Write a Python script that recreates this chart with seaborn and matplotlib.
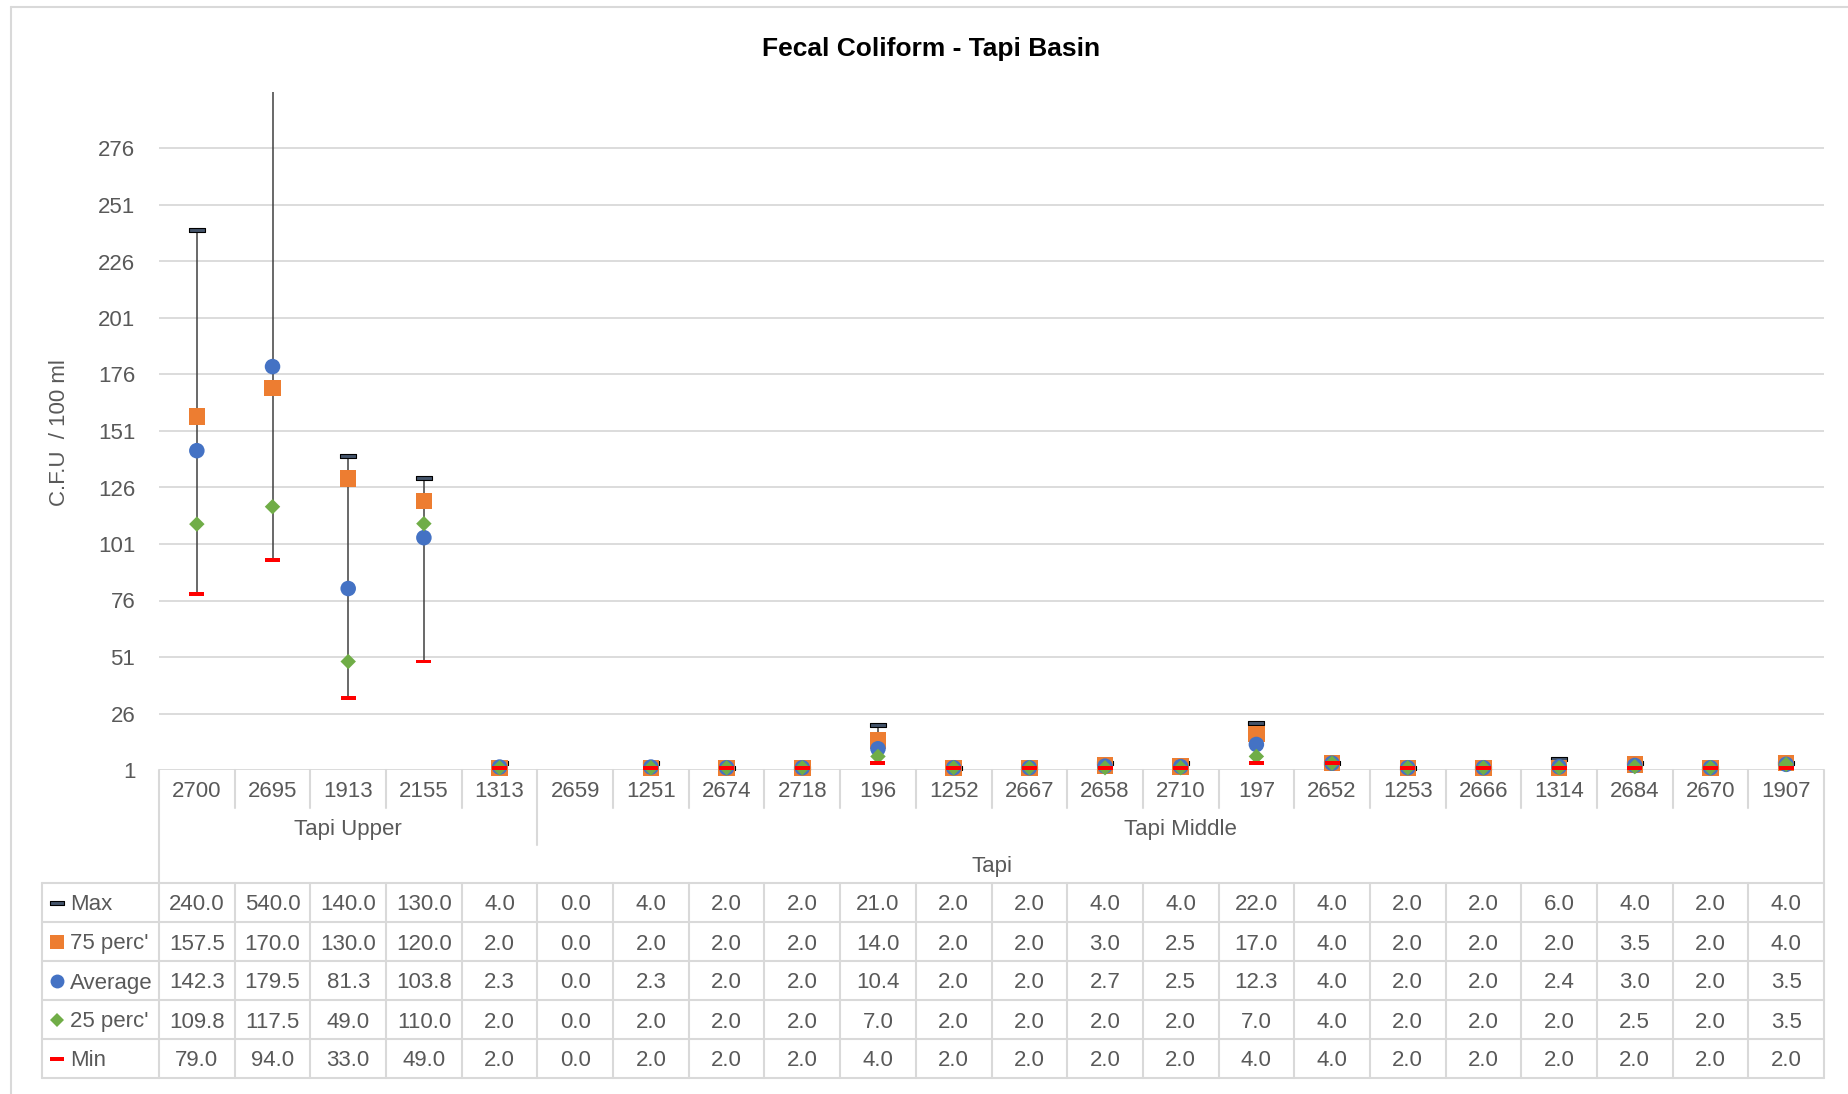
import matplotlib
matplotlib.use("Agg")
import numpy as np
import pandas as pd
import seaborn as sns
import matplotlib.pyplot as plt
from matplotlib import font_manager
from matplotlib.lines import Line2D
from matplotlib.transforms import blended_transform_factory

# stations, grouped by sub-basin
upper_stations = ["2700", "2695", "1913", "2155", "1313"]
middle_stations = ["2659", "1251", "2674", "2718", "196", "1252", "2667", "2658", "2710",
                   "197", "2652", "1253", "2666", "1314", "2684", "2670", "1907"]
basin_name = "Tapi"

max_vals = [240.0, 540.0, 140.0, 130.0, 4.0, 0.0, 4.0, 2.0, 2.0, 21.0, 2.0, 2.0, 4.0, 4.0, 22.0,
            4.0, 2.0, 2.0, 6.0, 4.0, 2.0, 4.0]
p75_vals = [157.5, 170.0, 130.0, 120.0, 2.0, 0.0, 2.0, 2.0, 2.0, 14.0, 2.0, 2.0, 3.0, 2.5, 17.0,
            4.0, 2.0, 2.0, 2.0, 3.5, 2.0, 4.0]
avg_vals = [142.3, 179.5, 81.3, 103.8, 2.3, 0.0, 2.3, 2.0, 2.0, 10.4, 2.0, 2.0, 2.7, 2.5, 12.3,
            4.0, 2.0, 2.0, 2.4, 3.0, 2.0, 3.5]
p25_vals = [109.8, 117.5, 49.0, 110.0, 2.0, 0.0, 2.0, 2.0, 2.0, 7.0, 2.0, 2.0, 2.0, 2.0, 7.0,
            4.0, 2.0, 2.0, 2.0, 2.5, 2.0, 3.5]
min_vals = [79.0, 94.0, 33.0, 49.0, 2.0, 0.0, 2.0, 2.0, 2.0, 4.0, 2.0, 2.0, 2.0, 2.0, 4.0,
            4.0, 2.0, 2.0, 2.0, 2.0, 2.0, 2.0]

series_names = ["Max", "75 perc'", "Average", "25 perc'", "Min"]
y_min, y_max, y_step = 1, 301, 25

W, H = 1848, 1094
text_color = "#595959"
line_grey = "#D9D9D9"

narrow = any(f.name == "Liberation Sans Narrow" for f in font_manager.fontManager.ttflist)
sns.set_style("white")
if narrow:
    plt.rcParams["font.family"] = ["Liberation Sans Narrow", "Liberation Sans", "DejaVu Sans"]
    fs, title_fs = 19, 22
else:
    plt.rcParams["font.family"] = ["Liberation Sans", "DejaVu Sans"]
    fs, title_fs = 16, 19

stations = upper_stations + middle_stations
groups = [("Tapi Upper", len(upper_stations)), ("Tapi Middle", len(middle_stations))]
n = len(stations)
series_vals = [max_vals, p75_vals, avg_vals, p25_vals, min_vals]

rows = []
for name, vals in zip(series_names, series_vals):
    for i, (st, v) in enumerate(zip(stations, vals)):
        rows.append({"pos": i, "station": st, "series": name, "value": v})
df = pd.DataFrame(rows)
# Excel only shows markers that fall inside the value axis range
visible = df[(df["value"] >= y_min) & (df["value"] <= y_max)]


def fy(ypx):
    return 1 - ypx / H


def fx(xpx):
    return xpx / W


dash_thin = [(-1, -0.25), (1, -0.25), (1, 0.25), (-1, 0.25), (-1, -0.25)]
dash_thick = [(-1, -0.27), (1, -0.27), (1, 0.27), (-1, 0.27), (-1, -0.27)]
styles = {
    "Max": dict(marker=dash_thick, s=117, color="#44546A", edgecolor="black", linewidth=0.8),
    "75 perc'": dict(marker="s", s=140, color="#ED7D31", edgecolor="none", linewidth=0),
    "Average": dict(marker="o", s=125, color="#4472C4", edgecolor="none", linewidth=0),
    "25 perc'": dict(marker="D", s=62, color="#70AD47", edgecolor="none", linewidth=0),
    "Min": dict(marker=dash_thin, s=117, color="#FF0000", edgecolor="none", linewidth=0),
}

fig = plt.figure(figsize=(W / 100, H / 100), dpi=100)
ax = fig.add_axes([fx(159), fy(770), fx(1824) - fx(159), fy(92) - fy(770)])
ax.set_xlim(-0.5, n - 0.5)
ax.set_ylim(y_min, y_max)

# min-max lines
ax.vlines(range(n), min_vals, max_vals, color="#404040", linewidth=1.1, zorder=2)

for z, name in enumerate(series_names):
    sub = visible[visible["series"] == name]
    sns.scatterplot(data=sub, x="pos", y="value", ax=ax, legend=False,
                    clip_on=False, zorder=3 + z, **styles[name])

ax.set_yticks(np.arange(y_min, y_max - y_step + 1, y_step))
ax.yaxis.grid(True, color=line_grey, linewidth=1.3)
ax.set_axisbelow(True)
ax.set_xticks([])
ax.set_xlabel("")
ax.set_ylabel("")
for sp in ax.spines.values():
    sp.set_visible(False)
ax.tick_params(axis="y", length=0, pad=17, labelsize=fs, labelcolor=text_color)

fig.text(fx(60), fy(433), "C.F.U  / 100 ml", rotation=90, ha="center", va="center",
         fontsize=fs, color=text_color)
fig.text(fx(931), fy(49), "Fecal Coliform - Tapi Basin", ha="center", va="center",
         fontsize=title_fs, fontweight="bold", color="black")

trans = blended_transform_factory(ax.transData, fig.transFigure)


def vline(x, y0, y1, tr=trans):
    fig.add_artist(Line2D([x, x], [fy(y0), fy(y1)], transform=tr, color=line_grey, linewidth=1.5))


def hline(x0, x1, y):
    fig.add_artist(Line2D([x0, x1], [fy(y), fy(y)], transform=fig.transFigure,
                          color=line_grey, linewidth=1.5))


# category axis: station labels, sub-basin and basin rows
boundaries = np.cumsum([g[1] for g in groups])[:-1]
for i in range(1, n):
    vline(i - 0.5, 770, 845 if i in boundaries else 808)
vline(-0.5, 770, 1078)
vline(n - 0.5, 770, 1078)
for i, st in enumerate(stations):
    fig.text(i, fy(789), st, transform=trans, ha="center", va="center_baseline",
             fontsize=fs, color=text_color)
start = 0
for gname, count in groups:
    fig.text(start + (count - 1) / 2, fy(827), gname, transform=trans, ha="center",
             va="center_baseline", fontsize=fs, color=text_color)
    start += count
fig.text((n - 1) / 2, fy(864), basin_name, transform=trans, ha="center",
         va="center_baseline", fontsize=fs, color=text_color)

# data table
row_top, row_h = 883, 39
table_left = 42
x_right = ax.get_position().x1
for r in range(len(series_names) + 1):
    hline(fx(table_left), x_right, row_top + r * row_h)
vline(fx(table_left), row_top, row_top + 5 * row_h, tr=fig.transFigure)
for i in range(1, n):
    vline(i - 0.5, row_top, row_top + 5 * row_h)

legend_size = {"Max": 10, "75 perc'": 10, "Average": 10, "25 perc'": 7, "Min": 10}
for r, (name, vals) in enumerate(zip(series_names, series_vals)):
    yc = row_top + r * row_h + row_h / 2
    st = styles[name]
    fig.add_artist(Line2D([fx(57)], [fy(yc)], transform=fig.transFigure, linestyle="none",
                          marker=st["marker"], markersize=legend_size[name],
                          markerfacecolor=st["color"],
                          markeredgecolor=st["edgecolor"] if st["edgecolor"] != "none" else st["color"],
                          markeredgewidth=st["linewidth"]))
    fig.text(fx(70), fy(yc), name, ha="left", va="center_baseline", fontsize=fs, color=text_color)
    for i, v in enumerate(vals):
        fig.text(i, fy(yc), f"{v:.1f}", transform=trans, ha="center",
                 va="center_baseline", fontsize=fs, color=text_color)

# chart area border
fig.add_artist(Line2D([fx(11), 1], [fy(7), fy(7)], transform=fig.transFigure, color=line_grey, linewidth=1.5))
fig.add_artist(Line2D([fx(11), fx(11)], [fy(7), 0], transform=fig.transFigure, color=line_grey, linewidth=1.5))

fig.savefig("out.png", dpi=100)
